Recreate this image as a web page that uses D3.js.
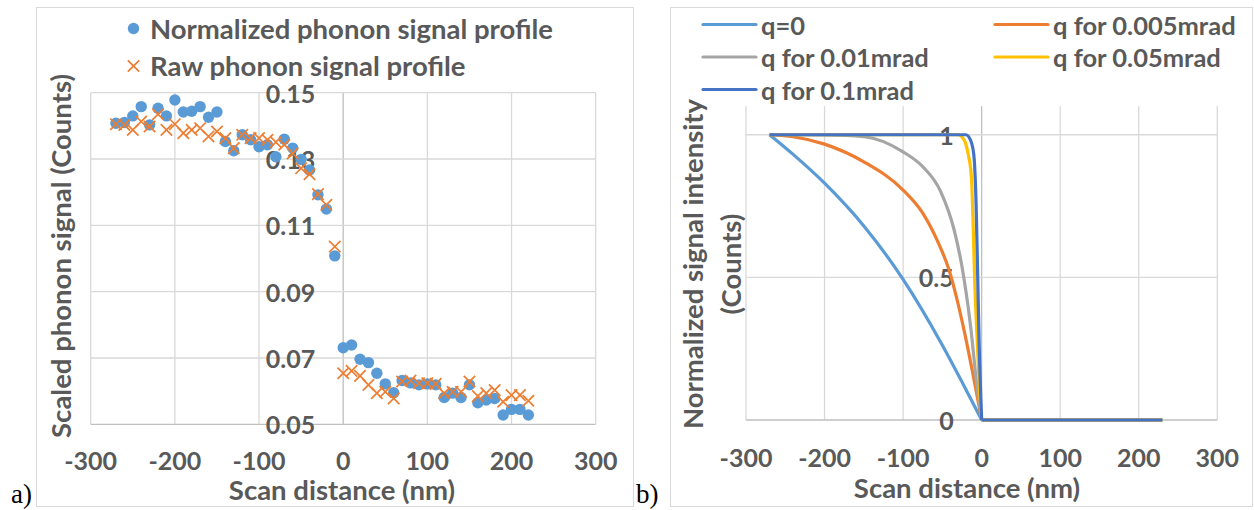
<!DOCTYPE html>
<html>
<head>
<meta charset="utf-8">
<script src="https://cdn.jsdelivr.net/npm/d3@7/dist/d3.min.js"></script>
<style>
  html, body { margin: 0; padding: 0; background: #fff; }
  svg { display: block; }
  text { font-family: Lato, "Open Sans", sans-serif; font-weight: 700; fill: #595959; }
</style>
</head>
<body>
<svg id="chart" width="1254" height="510"></svg>
<script>
// ---- panel a data (scan distance in nm, signal in counts) ----
const scanX = [-270, -260, -250, -240, -230, -220, -210, -200, -190, -180, -170, -160, -150, -140,
  -130, -120, -110, -100, -90, -80, -70, -60, -50, -40, -30, -20, -10,
  0, 10, 20, 30, 40, 50, 60, 70, 80, 90, 100, 110, 120, 130, 140, 150, 160, 170, 180, 190, 200, 210, 220];
const normalizedSignal = [0.1408, 0.1410, 0.1430, 0.1458, 0.1403, 0.1453, 0.1430, 0.1478, 0.1442, 0.1444,
  0.1458, 0.1426, 0.1442, 0.1353, 0.1325, 0.1373, 0.1358, 0.1337, 0.1343, 0.1307, 0.1360, 0.1333,
  0.1299, 0.1267, 0.1192, 0.1149, 0.1008,
  0.0731, 0.0739, 0.0696, 0.0686, 0.0654, 0.0622, 0.0595, 0.0632, 0.0625, 0.0619, 0.0622, 0.0619,
  0.0581, 0.0594, 0.0581, 0.0619, 0.0565, 0.0573, 0.0578, 0.0528, 0.0545, 0.0545, 0.0528];
const rawSignal = [0.1405, 0.1403, 0.1388, 0.1413, 0.1398, 0.1435, 0.1388, 0.1405, 0.1378, 0.1388,
  0.1393, 0.1368, 0.1383, 0.1363, 0.1333, 0.1373, 0.1363, 0.1363, 0.1358, 0.1351, 0.1343, 0.1317,
  0.1272, 0.1254, 0.1194, 0.1162, 0.1036,
  0.0654, 0.0661, 0.0646, 0.0619, 0.0594, 0.0598, 0.0578, 0.0629, 0.0632, 0.0624, 0.0624, 0.0622,
  0.0594, 0.0598, 0.0598, 0.0629, 0.0585, 0.0594, 0.0603, 0.0568, 0.0588, 0.0588, 0.0571];
const ticksAX = [-300, -200, -100, 0, 100, 200, 300];
const ticksAY = [0.05, 0.07, 0.09, 0.11, 0.13, 0.15];

// ---- panel b data (normalized intensity) ----
const q0X = [-270, -240, -200, -150, -100, -50, -25, 0, 230];
const q0Y = [1, 0.931, 0.830, 0.680, 0.493, 0.262, 0.133, 0, 0];
const q005X = [-270, -240, -200, -150, -100, -75, -55, -42, -32, -22, -11, 0, 230];
const q005Y = [1, 0.993, 0.967, 0.905, 0.806, 0.725, 0.62, 0.53, 0.43, 0.31, 0.16, 0, 0];
const q01X = [-270, -250, -200, -150, -100, -75, -52, -35, -25, -14, -6, 0, 230];
const q01Y = [1, 1, 0.999, 0.993, 0.94, 0.888, 0.80, 0.666, 0.537, 0.327, 0.12, 0, 0];
const q05X = [-270, -30, -22, -17, -13, -11, -9, -6, -3, 0, 230];
const q05Y = [1, 1, 0.98, 0.93, 0.85, 0.70, 0.5, 0.3, 0.12, 0, 0];
const q1X = [-270, -20, -14, -10, -7, -5, -3, 0, 230];
const q1Y = [1, 1, 0.98, 0.93, 0.75, 0.5, 0.25, 0, 0];
const seriesNames = ['q=0', 'q for 0.005mrad', 'q for 0.01mrad', 'q for 0.05mrad', 'q for 0.1mrad'];
const seriesColors = ['#5B9BD5', '#ED7D31', '#A5A5A5', '#FFC000', '#4472C4'];
const ticksBX = [-300, -200, -100, 0, 100, 200, 300];
const ticksBY = [0, 0.5, 1];

const svg = d3.select('#chart');
const gridColor = '#D9D9D9';
const axisColor = '#BFBFBF';
const wordSize = '27.5px';
const tickSize = '25px';

// outer frames of the two panels
svg.append('rect').attr('x', 36.5).attr('y', 7.5).attr('width', 597).attr('height', 499)
  .attr('fill', 'none').attr('stroke', gridColor);
svg.append('rect').attr('x', 670.5).attr('y', 7.5).attr('width', 582).attr('height', 499)
  .attr('fill', 'none').attr('stroke', gridColor);

// helper to draw gridlines and tick labels for a panel
function drawFrame(g, x, y, xTicks, yTicks, fmtY, xLabY) {
  const [x0, x1] = x.range();
  const [y0, y1] = y.range();
  g.selectAll('.vgrid').data(xTicks).join('line')
    .attr('x1', d => x(d)).attr('x2', d => x(d))
    .attr('y1', y0).attr('y2', y1)
    .attr('stroke', d => d === 0 ? axisColor : gridColor).attr('stroke-width', 1.3);
  g.selectAll('.hgrid').data(yTicks).join('line')
    .attr('x1', x0).attr('x2', x1)
    .attr('y1', d => y(d)).attr('y2', d => y(d))
    .attr('stroke', (d, i) => i === 0 ? axisColor : gridColor).attr('stroke-width', 1.3);
  // y tick labels sit next to the axis crossing at x=0
  g.selectAll('.ylab').data(yTicks).join('text')
    .attr('x', x(0) - 28).attr('y', d => y(d))
    .attr('text-anchor', 'end').attr('dominant-baseline', 'central')
    .style('font-size', tickSize)
    .text(fmtY);
  g.selectAll('.xlab').data(xTicks).join('text')
    .attr('x', d => x(d)).attr('y', xLabY)
    .attr('text-anchor', 'middle').attr('dominant-baseline', 'central')
    .style('font-size', tickSize)
    .text(d => d);
}

// ================= panel a =================
const xa = d3.scaleLinear().domain([-300, 300]).range([90.7, 595.7]);
const ya = d3.scaleLinear().domain([0.05, 0.15]).range([424.3, 92.7]);
const ga = svg.append('g');
drawFrame(ga, xa, ya, ticksAX, ticksAY, d => d3.format('.2f')(d), 460);

const pointsA = scanX.map((x, i) => ({ x, norm: normalizedSignal[i], raw: rawSignal[i] }));

ga.selectAll('.dot').data(pointsA).join('circle')
  .attr('cx', d => xa(d.x)).attr('cy', d => ya(d.norm))
  .attr('r', 5.7).attr('fill', '#5B9BD5');

const xs = 5.7;
const crossPath = (cx, cy) =>
  `M${cx - xs},${cy - xs}L${cx + xs},${cy + xs}M${cx - xs},${cy + xs}L${cx + xs},${cy - xs}`;
ga.selectAll('.cross').data(pointsA).join('path')
  .attr('d', d => crossPath(xa(d.x), ya(d.raw)))
  .attr('stroke', '#ED7D31').attr('stroke-width', 1.7).attr('fill', 'none');

// legend a
ga.append('circle').attr('cx', 133.5).attr('cy', 28.5).attr('r', 5.7).attr('fill', '#5B9BD5');
ga.append('path').attr('d', crossPath(133.5, 66))
  .attr('stroke', '#ED7D31').attr('stroke-width', 1.7);
ga.append('text').attr('x', 150).attr('y', 28).attr('dominant-baseline', 'central')
  .style('font-size', wordSize).text('Normalized phonon signal profile');
ga.append('text').attr('x', 150).attr('y', 65).attr('dominant-baseline', 'central')
  .style('font-size', wordSize).text('Raw phonon signal profile');

// axis titles a
ga.append('text').attr('x', 342).attr('y', 489).attr('text-anchor', 'middle')
  .attr('dominant-baseline', 'central').style('font-size', wordSize).text('Scan distance (nm)');
ga.append('text').attr('transform', 'translate(60,256) rotate(-90)').attr('text-anchor', 'middle')
  .attr('dominant-baseline', 'central').style('font-size', wordSize).text('Scaled phonon signal (Counts)');

svg.append('text').attr('x', 11).attr('y', 503)
  .style('font-family', '"Liberation Serif", "Times New Roman", serif').style('font-weight', 400)
  .style('font-size', '27px').style('fill', '#000').text('a)');

// ================= panel b =================
const xb = d3.scaleLinear().domain([-300, 300]).range([746, 1217.3]);
const yb = d3.scaleLinear().domain([0, 1.1]).range([420, 106.2]);
const gb = svg.append('g');
drawFrame(gb, xb, yb, ticksBX, ticksBY, d => d3.format('~g')(d), 457);

const curveData = [
  q0X.map((x, i) => [x, q0Y[i]]),
  q005X.map((x, i) => [x, q005Y[i]]),
  q01X.map((x, i) => [x, q01Y[i]]),
  q05X.map((x, i) => [x, q05Y[i]]),
  q1X.map((x, i) => [x, q1Y[i]])
];
const smoothB = d3.line().x(d => xb(d[0])).y(d => yb(d[1])).curve(d3.curveMonotoneX);
const straightB = d3.line().x(d => xb(d[0])).y(d => yb(d[1]));

// falling part (x <= 0) is smooth, the tail along zero is straight
const curveG = gb.selectAll('.curve').data(curveData).join('g');
curveG.append('path')
  .attr('d', d => smoothB(d.filter(p => p[0] <= 0)))
  .attr('fill', 'none')
  .attr('stroke', (d, i) => seriesColors[i])
  .attr('stroke-width', 3.2)
  .attr('stroke-linejoin', 'round');
curveG.append('path')
  .attr('d', d => straightB(d.filter(p => p[0] >= 0)))
  .attr('fill', 'none')
  .attr('stroke', (d, i) => seriesColors[i])
  .attr('stroke-width', 3.2);

// legend b: two columns
const legendPos = [[703, 24.5], [995, 24.5], [703, 57], [995, 57], [703, 89.5]];
const legB = gb.selectAll('.leg').data(seriesNames).join('g')
  .attr('transform', (d, i) => `translate(${legendPos[i][0]},${legendPos[i][1]})`);
legB.append('line').attr('x1', 0).attr('x2', 53).attr('y1', 0).attr('y2', 0)
  .attr('stroke', (d, i) => seriesColors[i]).attr('stroke-width', 3.2).attr('stroke-linecap', 'round');
legB.append('text').attr('x', 58).attr('y', 0).attr('dominant-baseline', 'central')
  .style('font-size', '25.5px').text(d => d);

// axis titles b
gb.append('text').attr('x', 967).attr('y', 487).attr('text-anchor', 'middle')
  .attr('dominant-baseline', 'central').style('font-size', wordSize).text('Scan distance (nm)');
gb.append('text').attr('transform', 'translate(692,264) rotate(-90)').attr('text-anchor', 'middle')
  .attr('dominant-baseline', 'central').style('font-size', wordSize).text('Normalized signal intensity');
gb.append('text').attr('transform', 'translate(730,264) rotate(-90)').attr('text-anchor', 'middle')
  .attr('dominant-baseline', 'central').style('font-size', wordSize).text('(Counts)');

svg.append('text').attr('x', 636).attr('y', 503)
  .style('font-family', '"Liberation Serif", "Times New Roman", serif').style('font-weight', 400)
  .style('font-size', '27px').style('fill', '#000').text('b)');
</script>
</body>
</html>
